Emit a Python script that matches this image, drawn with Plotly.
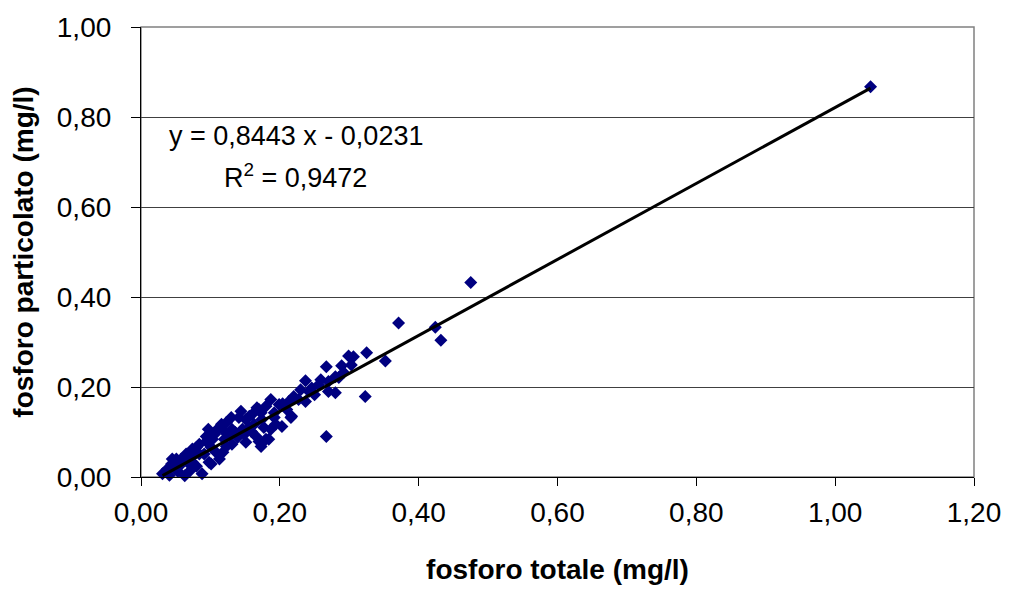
import plotly.graph_objects as go

# fosforo totale (mg/l)
p_tot = [1.051, 0.475, 0.371, 0.424, 0.432, 0.325, 0.352, 0.299, 0.306, 0.303,
         0.267, 0.280, 0.285, 0.270, 0.237, 0.256, 0.246, 0.270, 0.280, 0.323,
         0.267, 0.237, 0.220, 0.227, 0.216, 0.203, 0.187, 0.180, 0.173, 0.194,
         0.204, 0.167, 0.156, 0.141, 0.123, 0.110, 0.094, 0.187, 0.170, 0.184,
         0.031, 0.044, 0.051, 0.065, 0.074, 0.084, 0.094, 0.106, 0.063, 0.088,
         0.070, 0.080, 0.055, 0.045, 0.058, 0.101, 0.074, 0.080, 0.113, 0.117,
         0.131, 0.136, 0.151, 0.170, 0.217, 0.210, 0.180, 0.166, 0.151, 0.123,
         0.108, 0.098, 0.038, 0.053, 0.091, 0.101, 0.120, 0.127, 0.146, 0.156,
         0.163, 0.174, 0.192, 0.199, 0.213, 0.131, 0.139, 0.149, 0.159, 0.177,
         0.192, 0.130, 0.116, 0.103, 0.084, 0.067, 0.073, 0.048, 0.041, 0.097,
         0.144, 0.160, 0.230, 0.242, 0.250, 0.259, 0.292, 0.289, 0.173, 0.118]

# fosforo particolato (mg/l)
p_part = [0.867, 0.432, 0.342, 0.333, 0.304, 0.276, 0.258, 0.269, 0.267, 0.249,
          0.245, 0.223, 0.221, 0.212, 0.214, 0.205, 0.198, 0.190, 0.187, 0.179,
          0.090, 0.168, 0.179, 0.172, 0.132, 0.112, 0.172, 0.157, 0.143, 0.117,
          0.163, 0.154, 0.135, 0.132, 0.121, 0.106, 0.090, 0.106, 0.079, 0.084,
          0.007, 0.029, 0.040, 0.051, 0.062, 0.073, 0.079, 0.095, 0.003, 0.007,
          0.013, 0.024, 0.024, 0.040, 0.040, 0.029, 0.033, 0.066, 0.040, 0.106,
          0.106, 0.099, 0.128, 0.150, 0.135, 0.150, 0.084, 0.090, 0.077, 0.068,
          0.055, 0.033, 0.018, 0.013, 0.051, 0.066, 0.084, 0.095, 0.106, 0.110,
          0.117, 0.128, 0.143, 0.161, 0.168, 0.073, 0.088, 0.095, 0.101, 0.110,
          0.132, 0.132, 0.117, 0.084, 0.051, 0.033, 0.044, 0.022, 0.004, 0.106,
          0.146, 0.139, 0.194, 0.190, 0.183, 0.216, 0.232, 0.247, 0.068, 0.055]

slope = 0.8443
intercept = -0.0231
r2 = 0.9472

x_ticks = [0.0, 0.2, 0.4, 0.6, 0.8, 1.0, 1.2]
y_ticks = [0.0, 0.2, 0.4, 0.6, 0.8, 1.0]

FONT = "Liberation Sans, Arial, sans-serif"
FS = 28

x_line = [min(p_tot), max(p_tot)]
y_line = [slope * v + intercept for v in x_line]

fig = go.Figure()
fig.add_trace(go.Scatter(
    x=p_tot, y=p_part, mode="markers",
    marker=dict(symbol="diamond", size=10, color="#000080",
                line=dict(width=0)),
    cliponaxis=False, showlegend=False, hoverinfo="x+y"))
fig.add_trace(go.Scatter(
    x=x_line, y=y_line, mode="lines",
    line=dict(color="black", width=3),
    showlegend=False, hoverinfo="skip"))

fig.add_annotation(
    x=0.223, y=0.758, xref="x", yref="y", showarrow=False,
    xanchor="center", yanchor="middle",
    text="y = 0,8443 x - 0,0231",
    font=dict(family=FONT, size=27, color="black"))
fig.add_annotation(
    x=0.223, y=0.668, xref="x", yref="y", showarrow=False,
    xanchor="center", yanchor="middle",
    text="R<sup>2</sup> = 0,9472",
    font=dict(family=FONT, size=27, color="black"))

fig.update_layout(
    width=1013, height=591,
    margin=dict(l=141, r=35, t=24, b=113, pad=0),
    paper_bgcolor="white", plot_bgcolor="white",
    separators=",.",
    font=dict(family=FONT, size=FS, color="black"),
    showlegend=False,
    shapes=[dict(type="rect", xref="paper", yref="paper", x0=0, y0=0, x1=1, y1=1,
                 line=dict(color="#808080", width=1.5), layer="below")],
)
fig.update_xaxes(
    range=[0, 1.2], tickvals=x_ticks, tickformat=".2f",
    showgrid=False, zeroline=False,
    showline=True, linecolor="black", linewidth=1.2,
    ticks="outside", ticklen=8, tickcolor="black", tickwidth=1,
    tickfont=dict(family=FONT, size=FS, color="black"),
    ticklabelstandoff=2,
    title=dict(text="<b>fosforo totale (mg/l)</b>",
               font=dict(family=FONT, size=FS, color="black"), standoff=32),
)
fig.update_yaxes(
    range=[0, 1.0], tickvals=y_ticks, tickformat=".2f",
    showgrid=True, gridcolor="#404040", gridwidth=1,
    zeroline=False,
    showline=True, linecolor="black", linewidth=1.2,
    ticks="outside", ticklen=9, tickcolor="black", tickwidth=1,
    tickfont=dict(family=FONT, size=FS, color="black"),
    ticklabelstandoff=14,
    title=dict(text="<b>fosforo particolato (mg/l)</b>",
               font=dict(family=FONT, size=FS, color="black"), standoff=14),
)

fig.write_html("out.html")
